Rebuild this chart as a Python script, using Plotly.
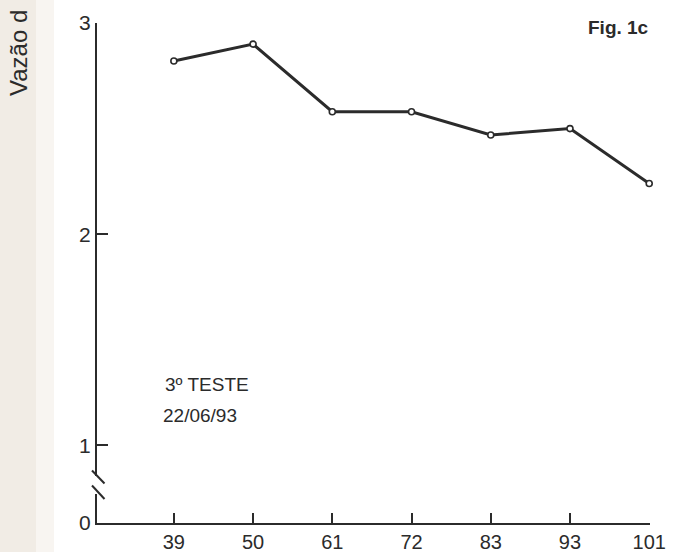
import plotly.graph_objects as go

# Data
categories = ["39", "50", "61", "72", "83", "93", "101"]
vazao = [2.82, 2.90, 2.58, 2.58, 2.47, 2.50, 2.24]
y_ticks_upper = [1, 2, 3]
y_ticks_lower = [0]

W, H = 673, 552
ML, MR, MT, MB = 97, 23, 23, 29
PW = W - ML - MR
PH = H - MT - MB


def px(xp):
    return (xp - ML) / PW


def py(yp):
    return (H - MB - yp) / PH


ink = "#2b2b2b"
font_family = "Liberation Sans, Arial, sans-serif"

fig = go.Figure()
fig.add_trace(go.Scatter(
    x=categories, y=vazao, mode="lines+markers",
    line=dict(color=ink, width=3),
    marker=dict(size=6, color="white", line=dict(color=ink, width=1.6)),
    showlegend=False, cliponaxis=False, yaxis="y",
))
# same series on the lower (broken) segment of the axis; falls outside its range
fig.add_trace(go.Scatter(
    x=categories, y=vazao, mode="lines", yaxis="y2",
    line=dict(color=ink, width=3),
    showlegend=False, hoverinfo="skip", cliponaxis=True,
))

# Upper scale: 3 at y=23, 1 at y=446 (211 px per unit)
unit = 211.2
upper_bottom_px = 476
upper_lo = 3 - (upper_bottom_px - 23) / unit
lower_top_px = 494
lower_hi = (H - MB - lower_top_px) / unit

fig.update_layout(
    template="none",
    width=W, height=H,
    margin=dict(l=ML, r=MR, t=MT, b=MB, pad=0),
    paper_bgcolor="white", plot_bgcolor="white",
    font=dict(family=font_family, color=ink),
    xaxis=dict(
        type="category", range=[-0.97, 6.01], anchor="y2", automargin=False,
        showline=True, linecolor=ink, linewidth=2,
        ticks="inside", ticklen=10, tickwidth=2, tickcolor=ink,
        showgrid=False, zeroline=False,
        tickfont=dict(size=20, color=ink),
    ),
    yaxis=dict(
        domain=[py(upper_bottom_px), 1], range=[upper_lo, 3], automargin=False,
        tickvals=y_ticks_upper, ticktext=[str(v) for v in y_ticks_upper],
        showline=True, linecolor=ink, linewidth=2,
        ticks="inside", ticklen=11, tickwidth=2, tickcolor=ink,
        showgrid=False, zeroline=False,
        tickfont=dict(size=21, color=ink),
        anchor="x",
    ),
    yaxis2=dict(
        domain=[0, py(lower_top_px)], range=[0, lower_hi], automargin=False,
        tickvals=y_ticks_lower, ticktext=[str(v) for v in y_ticks_lower],
        showline=True, linecolor=ink, linewidth=2,
        ticks="", showgrid=False, zeroline=False,
        tickfont=dict(size=21, color=ink),
        anchor="x",
    ),
)

shapes = [
    # scanned page edge (left strip)
    dict(type="rect", xref="paper", yref="paper", layer="below",
         x0=px(-2), x1=px(36), y0=py(H + 2), y1=py(-2),
         fillcolor="#f1ece5", line=dict(width=0)),
    dict(type="rect", xref="paper", yref="paper", layer="below",
         x0=px(36), x1=px(54), y0=py(H + 2), y1=py(-2),
         fillcolor="#f8f5f1", line=dict(width=0)),
    # axis break marks
    dict(type="line", xref="paper", yref="paper",
         x0=px(92), y0=py(470.5), x1=px(104.5), y1=py(483.5),
         line=dict(color=ink, width=2)),
    dict(type="line", xref="paper", yref="paper",
         x0=px(92), y0=py(485.5), x1=px(104.5), y1=py(499),
         line=dict(color=ink, width=2)),
]
fig.update_layout(shapes=shapes)

annotations = [
    dict(text="Fig. 1c", xref="paper", yref="paper", x=px(651), y=py(27),
         xanchor="right", yanchor="middle", showarrow=False,
         font=dict(size=19, color=ink, family="Liberation Sans, Arial, sans-serif", weight="bold")),
    dict(text="3º TESTE", xref="paper", yref="paper", x=px(163), y=py(384),
         xanchor="left", yanchor="middle", showarrow=False,
         font=dict(size=19, color=ink)),
    dict(text="22/06/93", xref="paper", yref="paper", x=px(161), y=py(415),
         xanchor="left", yanchor="middle", showarrow=False,
         font=dict(size=19, color=ink)),
    dict(text="Vazão d", xref="paper", yref="paper", x=px(18), y=py(98),
         xanchor="center", yanchor="bottom", textangle=-90, showarrow=False,
         font=dict(size=24, color=ink)),
]
fig.update_layout(annotations=annotations)

fig.write_html(
    "out.html",
    config={"displayModeBar": False},
    post_script="document.body.style.margin='0';document.body.style.overflow='hidden';",
)
